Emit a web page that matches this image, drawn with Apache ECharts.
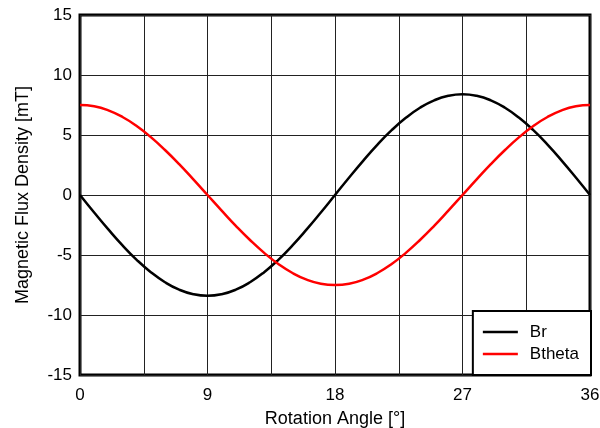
<!DOCTYPE html>
<html>
<head>
<meta charset="utf-8">
<script src="https://cdn.jsdelivr.net/npm/echarts@6/dist/echarts.min.js"></script>
<style>
  html, body { margin: 0; padding: 0; background: #fff; }
  #chart { width: 600px; height: 428px; }
</style>
</head>
<body>
<div id="chart"></div>
<script>
// Rotation angle samples [°]
const angles = [0,1,2,3,4,5,6,7,8,9,10,11,12,13,14,15,16,17,18,
                19,20,21,22,23,24,25,26,27,28,29,30,31,32,33,34,35,36];

// Radial component Br [mT]
const brValues = [0,-1.46,-2.87,-4.20,-5.40,-6.43,-7.27,-7.89,-8.27,-8.40,
                  -8.27,-7.89,-7.27,-6.43,-5.40,-4.20,-2.87,-1.46,0,
                  1.46,2.87,4.20,5.40,6.43,7.27,7.89,8.27,8.40,
                  8.27,7.89,7.27,6.43,5.40,4.20,2.87,1.46,0];

// Tangential component Btheta [mT]
const bthetaValues = [7.50,7.39,7.05,6.50,5.75,4.82,3.75,2.57,1.30,0,
                      -1.30,-2.57,-3.75,-4.82,-5.75,-6.50,-7.05,-7.39,-7.50,
                      -7.39,-7.05,-6.50,-5.75,-4.82,-3.75,-2.57,-1.30,0,
                      1.30,2.57,3.75,4.82,5.75,6.50,7.05,7.39,7.50];

const xLabelValues = [0, 9, 18, 27, 36];
const seriesNames = ['Br', 'Btheta'];

const font = 'Liberation Sans, Arial, Helvetica, sans-serif';

const pairs = (ys) => angles.map((a, i) => [a, ys[i]]);

const chart = echarts.init(document.getElementById('chart'), null, { renderer: 'canvas' });

chart.setOption({
  animation: false,
  backgroundColor: '#fff',
  grid: {
    left: 80, right: 10, top: 15, bottom: 53,
    outerBoundsMode: 'none',
    containLabel: false,
    show: true,
    borderColor: '#000',
    borderWidth: 3,
    backgroundColor: 'transparent'
  },
  legend: {
    data: seriesNames.map((n) => ({ name: n, icon: 'rect' })),
    orient: 'vertical',
    right: 9,
    bottom: 53,
    backgroundColor: '#fff',
    borderColor: '#000',
    borderWidth: 2,
    borderRadius: 0,
    padding: [12, 12, 12, 10],
    itemGap: 4,
    itemWidth: 35,
    itemHeight: 2.5,
    textStyle: { fontFamily: font, fontSize: 17, color: '#000', lineHeight: 18, padding: [0, 0, 0, 7] }
  },
  xAxis: {
    type: 'value',
    min: 0, max: 36, interval: 4.5,
    name: 'Rotation Angle [°]',
    nameLocation: 'middle',
    nameGap: 35,
    nameTextStyle: { fontFamily: font, fontSize: 18, color: '#000' },
    axisLine: { show: false },
    axisTick: { show: false },
    axisLabel: {
      fontFamily: font, fontSize: 17, color: '#000', margin: 12,
      formatter: (v) => xLabelValues.includes(v) ? String(v) : ''
    },
    splitLine: { show: true, lineStyle: { color: '#222', width: 1 } }
  },
  yAxis: {
    type: 'value',
    min: -15, max: 15, interval: 5,
    name: 'Magnetic Flux Density [mT]',
    nameLocation: 'middle',
    nameGap: 48,
    nameTextStyle: { fontFamily: font, fontSize: 18, color: '#000' },
    axisLine: { show: false },
    axisTick: { show: false },
    axisLabel: { fontFamily: font, fontSize: 17, color: '#000', margin: 8 },
    splitLine: { show: true, lineStyle: { color: '#222', width: 1 } }
  },
  series: [
    {
      name: seriesNames[0],
      type: 'line',
      data: pairs(brValues),
      symbol: 'none',
      smooth: true,
      color: '#000',
      lineStyle: { color: '#000', width: 2.5 },
      z: 3
    },
    {
      name: seriesNames[1],
      type: 'line',
      data: pairs(bthetaValues),
      symbol: 'none',
      smooth: true,
      color: '#ff0000',
      lineStyle: { color: '#ff0000', width: 2.5 },
      z: 4
    }
  ]
});
</script>
</body>
</html>
